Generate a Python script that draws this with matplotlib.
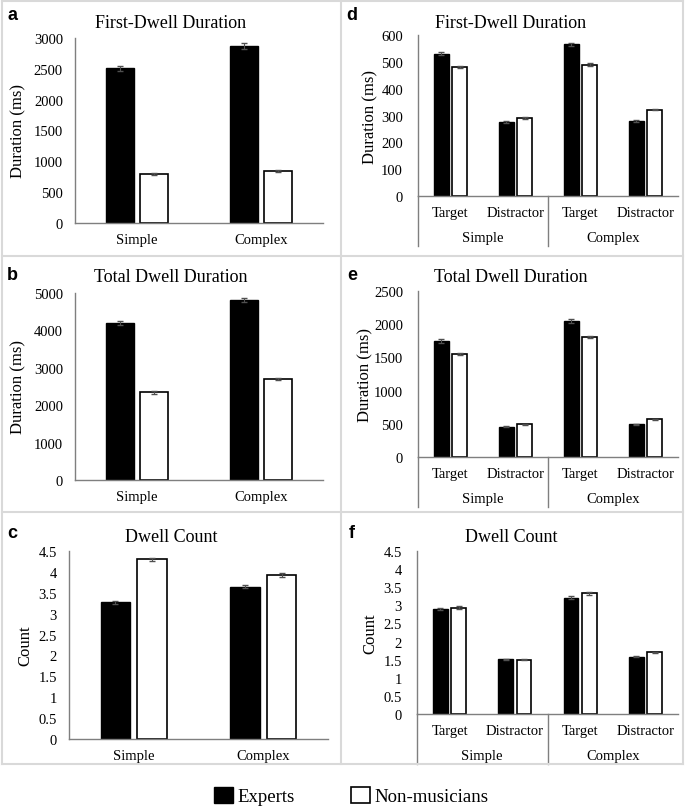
import numpy as np
import matplotlib
matplotlib.use('Agg')
import matplotlib.pyplot as plt
from matplotlib.lines import Line2D

plt.rcParams['font.family'] = ['Liberation Serif', 'DejaVu Serif']

# data
conditions = ['Simple', 'Complex']
areas = ['Target', 'Distractor']
series = ['Experts', 'Non-musicians']

first_dwell_exp = [2510, 2870]
first_dwell_non = [800, 850]
first_dwell_exp_err = [40, 50]
first_dwell_non_err = [15, 15]

total_dwell_exp = [4200, 4820]
total_dwell_non = [2340, 2700]
total_dwell_exp_err = [50, 55]
total_dwell_non_err = [30, 30]

count_exp = [3.27, 3.65]
count_non = [4.30, 3.92]
count_exp_err = [0.03, 0.04]
count_non_err = [0.04, 0.05]

# right column: Simple-Target, Simple-Distractor, Complex-Target, Complex-Distractor
area_first_exp = [530, 275, 565, 280]
area_first_non = [480, 290, 490, 322]
area_first_exp_err = [5, 4, 6, 4]
area_first_non_err = [4, 3, 4, 3]

area_total_exp = [1740, 455, 2050, 490]
area_total_non = [1555, 490, 1805, 565]
area_total_exp_err = [30, 8, 30, 8]
area_total_non_err = [15, 5, 15, 5]

area_count_exp = [2.90, 1.51, 3.21, 1.58]
area_count_non = [2.94, 1.50, 3.33, 1.70]
area_count_exp_err = [0.04, 0.02, 0.04, 0.02]
area_count_non_err = [0.04, 0.02, 0.04, 0.02]

W, H = 685, 812
fig = plt.figure(figsize=(W / 100, H / 100), dpi=100)


def rect(x0, y0, x1, y1):
    return [x0 / W, 1 - y1 / H, (x1 - x0) / W, (y1 - y0) / H]


bar_w = 0.226
off = 0.141
spine_col = '#7f7f7f'
err_col = '#505050'


def draw_bars(ax, exp, non, exp_err, non_err, ymax, ystep, ylabel, nlabel_x, ypad):
    x = np.arange(len(exp))
    b1 = ax.bar(x - off, exp, bar_w, color='black', edgecolor='black', linewidth=1)
    b2 = ax.bar(x + off, non, bar_w, color='white', edgecolor='black', linewidth=1.2)
    ax.errorbar(x - off, exp, yerr=exp_err, fmt='none', ecolor=err_col, elinewidth=0.8, capsize=2.2)
    ax.errorbar(x + off, non, yerr=non_err, fmt='none', ecolor=err_col, elinewidth=0.8, capsize=2.2)
    ax.set_xlim(-0.5, len(exp) - 0.5)
    ax.set_ylim(0, ymax)
    ticks = np.arange(0, ymax + ystep / 2, ystep)
    ax.set_yticks(ticks)
    if ystep < 1:
        ax.set_yticklabels(['%g' % t for t in ticks])
    for s in ['top', 'right']:
        ax.spines[s].set_visible(False)
    for s in ['left', 'bottom']:
        ax.spines[s].set_color(spine_col)
        ax.spines[s].set_linewidth(1.0)
    ax.tick_params(axis='y', length=0, pad=ypad, labelsize=10.5)
    ax.tick_params(axis='x', length=0, pad=7.5, labelsize=10.5)
    ax.set_ylabel(ylabel, fontsize=12)
    ax.yaxis.set_label_coords(nlabel_x, 0.5)
    ax.set_facecolor('none')
    return b1, b2


# left column
ax_a = fig.add_axes(rect(75, 39, 323, 224))
bars = draw_bars(ax_a, first_dwell_exp, first_dwell_non, first_dwell_exp_err, first_dwell_non_err,
                 3000, 500, 'Duration (ms)', -0.194, 8.7)
ax_b = fig.add_axes(rect(75, 294, 323, 481))
draw_bars(ax_b, total_dwell_exp, total_dwell_non, total_dwell_exp_err, total_dwell_non_err,
          5000, 1000, 'Duration (ms)', -0.194, 8.7)
ax_c = fig.add_axes(rect(69, 552, 328, 740))
draw_bars(ax_c, count_exp, count_non, count_exp_err, count_non_err,
          4.5, 0.5, 'Count', -0.139, 8.7)
for ax in [ax_a, ax_b, ax_c]:
    ax.set_xticks(range(len(conditions)))
    ax.set_xticklabels(conditions)

# right column
ax_d = fig.add_axes(rect(418, 36, 678, 197))
draw_bars(ax_d, area_first_exp, area_first_non, area_first_exp_err, area_first_non_err,
          600, 100, 'Duration (ms)', -0.154, 10.8)
ax_e = fig.add_axes(rect(418, 292, 678, 458))
draw_bars(ax_e, area_total_exp, area_total_non, area_total_exp_err, area_total_non_err,
          2500, 500, 'Duration (ms)', -0.173, 10.8)
ax_f = fig.add_axes(rect(417, 552, 678, 715))
draw_bars(ax_f, area_count_exp, area_count_non, area_count_exp_err, area_count_non_err,
          4.5, 0.5, 'Count', -0.149, 10.8)
for ax in [ax_d, ax_e, ax_f]:
    ax.set_xticks(range(4))
    ax.set_xticklabels(areas * 2)
    h_px = ax.get_position().height * H
    drop = 50 / h_px
    for xb in [-0.5, 1.5]:
        ax.plot([xb, xb], [0, -drop], transform=ax.get_xaxis_transform(), clip_on=False,
                color=spine_col, lw=1.0)
    for i, cond in enumerate(conditions):
        ax.annotate(cond, xy=(2 * i + 0.5, 0), xycoords=ax.get_xaxis_transform(),
                    xytext=(0, -30), textcoords='offset points', ha='center', va='center',
                    fontsize=10.5)

# titles and panel letters
titles = ['First-Dwell Duration', 'Total Dwell Duration', 'Dwell Count']
title_y = [23, 278, 537]
letter_y = [15, 275, 533]
for col, (tx, lx, letters) in enumerate([(171, 12, 'abc'), (511, 352, 'def')]):
    for r in range(3):
        fig.text(tx / W, 1 - title_y[r] / H, titles[r], ha='center', va='center', fontsize=13)
        fig.text(lx / W, 1 - letter_y[r] / H, letters[r], ha='center', va='center',
                 fontsize=13, fontweight='bold', family='Liberation Sans')

# light gray panel frames
frame_col = '#d9d9d9'
for y in [2, 257, 513, 765]:
    fig.add_artist(Line2D([2 / W, 683 / W], [1 - y / H, 1 - y / H], color=frame_col, lw=1.5))
for x in [2, 341, 683]:
    fig.add_artist(Line2D([x / W, x / W], [1 - 2 / H, 1 - 765 / H], color=frame_col, lw=1.5))

fig.legend(bars, series, loc='center', bbox_to_anchor=(351.5 / W, 1 - 797 / H), ncol=2,
           frameon=False, fontsize=13.5, handlelength=1.0, handleheight=1.0,
           handletextpad=0.25, columnspacing=3.0)

fig.savefig('out.png', dpi=100)
